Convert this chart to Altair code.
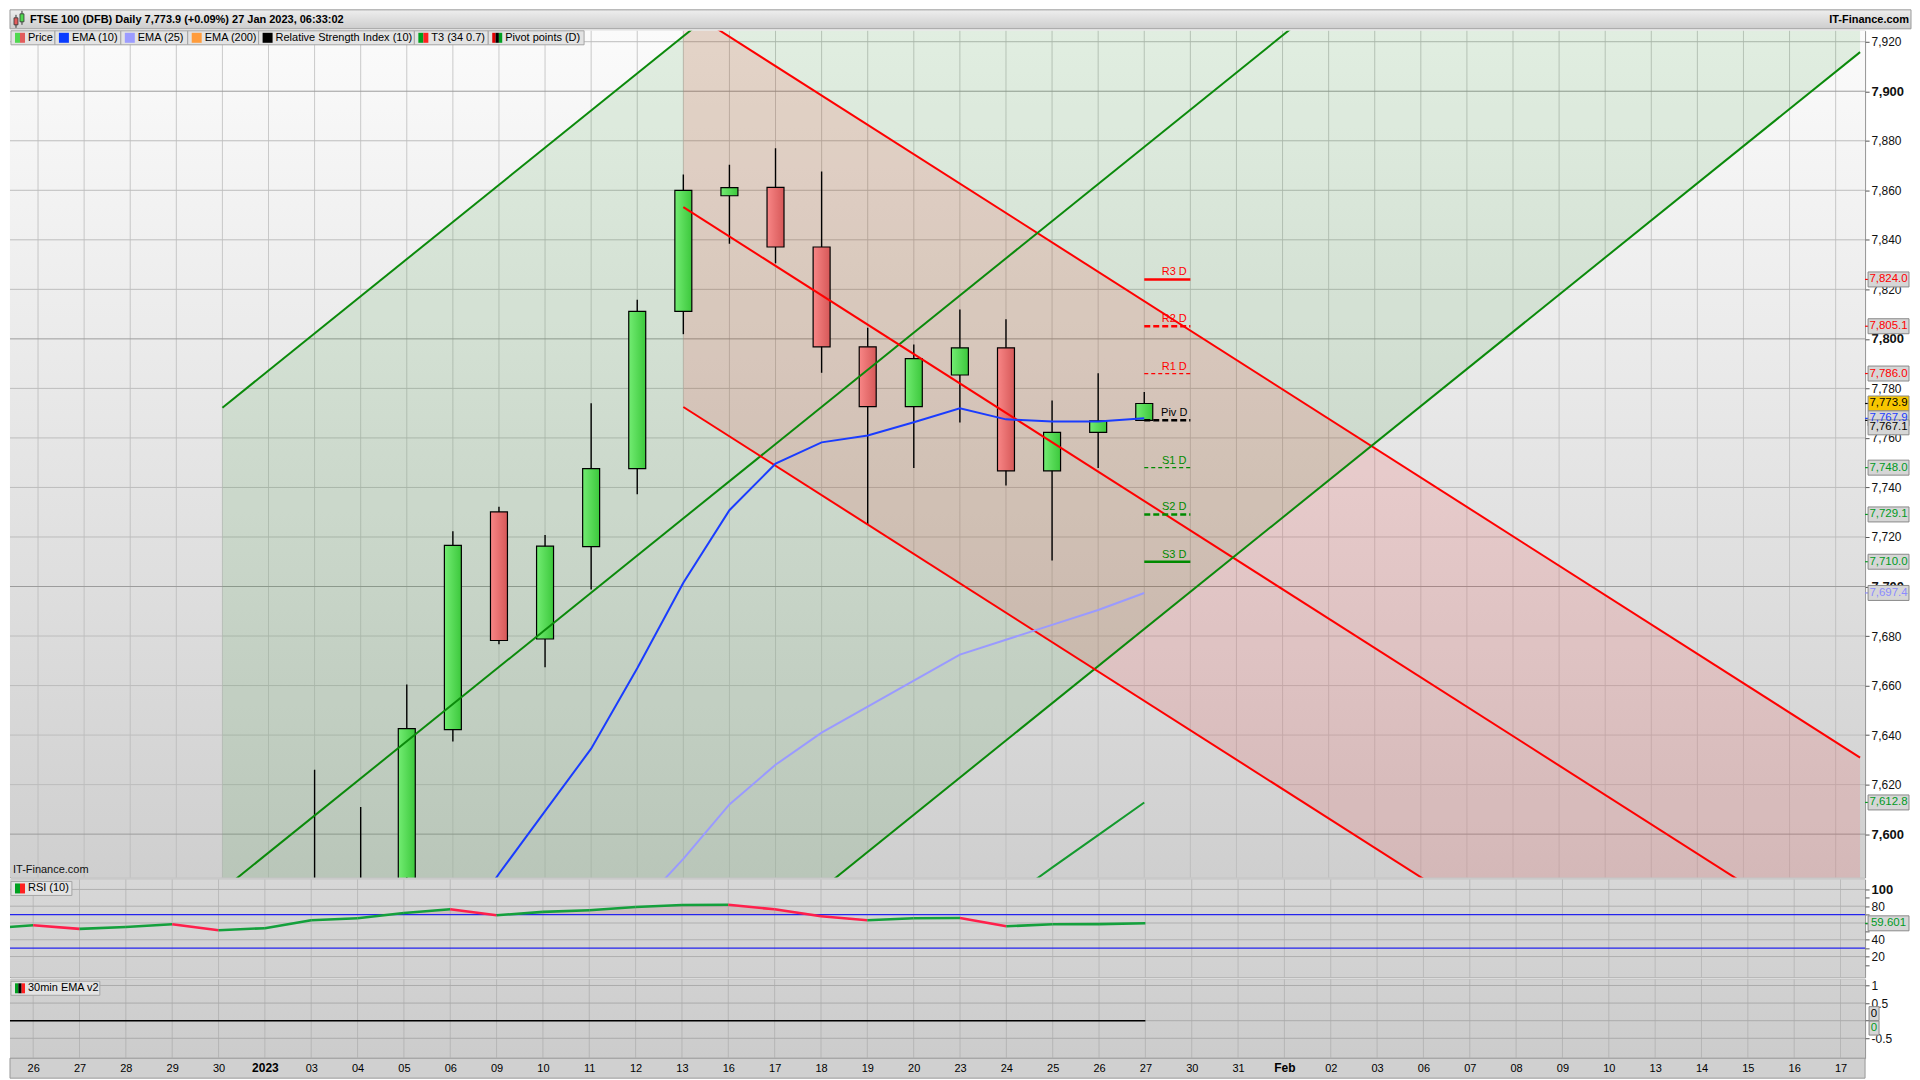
import altair as alt
import pandas as pd

FONT = "Liberation Sans"

# ---------------- data ----------------
DAY_LABELS = ["26", "27", "28", "29", "30", "2023", "03", "04", "05", "06",
              "09", "10", "11", "12", "13", "16", "17", "18", "19", "20",
              "23", "24", "25", "26", "27", "30", "31", "Feb", "02", "03",
              "06", "07", "08", "09", "10", "13", "14", "15", "16", "17"]
BOLD_DAY_LABELS = ["2023", "Feb"]

CANDLE_FIRST = 6
OPEN = [7535.0, 7556.0, 7575.0, 7642.2, 7730.1, 7678.8, 7716.1, 7747.6, 7811.1, 7857.8,
        7861.2, 7837.1, 7796.8, 7772.6, 7785.4, 7796.4, 7746.7, 7762.2, 7767.1]
HIGH = [7626.0, 7611.0, 7660.4, 7722.3, 7732.2, 7720.8, 7774.0, 7815.8, 7866.4, 7870.3,
        7877.0, 7867.6, 7804.5, 7797.7, 7811.9, 7807.9, 7775.1, 7786.1, 7778.5]
LOW = [7520.0, 7540.0, 7566.0, 7637.4, 7676.7, 7667.4, 7698.8, 7737.3, 7801.9, 7838.4,
       7830.5, 7786.3, 7725.1, 7747.9, 7766.2, 7740.8, 7710.5, 7747.9, 7766.9]
CLOSE = [7560.0, 7575.0, 7642.6, 7716.6, 7678.2, 7716.3, 7747.6, 7811.1, 7860.0, 7861.1,
         7837.1, 7796.8, 7772.6, 7792.0, 7796.4, 7746.7, 7762.2, 7766.9, 7773.9]

EMA10_FIRST = 8
EMA10 = [7538.0, 7557.0, 7584.0, 7609.3, 7634.5, 7667.0, 7701.5, 7730.8, 7749.6, 7758.2,
         7761.0, 7766.3, 7772.0, 7767.5, 7766.6, 7766.6, 7767.9]
EMA25_FIRST = 12
EMA25 = [7551.0, 7570.0, 7590.0, 7612.0, 7628.0, 7641.0, 7651.5, 7662.0, 7672.5, 7678.5,
         7684.5, 7690.5, 7697.4]
T3_FIRST = 21
T3 = [7573.0, 7586.5, 7599.6, 7612.8]

GREEN_CH_X = [4.0, 39.53]
GREEN_CH_MID = [7577.5, 8110.5]
GREEN_CH_HALF = 194.7
RED_CH_X = [14.0, 39.53]
RED_CH_MID = [7853.2, 7550.2]
RED_CH_HALF = 80.7

PIVOT_NAMES = ["R3 D", "R2 D", "R1 D", "Piv D", "S1 D", "S2 D", "S3 D"]
PIVOT_VALUES = [7824.0, 7805.1, 7786.0, 7767.1, 7748.0, 7729.1, 7710.0]
PIVOT_DAY = 24

PRICE_TAG_VALUES = [7824.0, 7805.1, 7786.0, 7773.9, 7767.9, 7767.1,
                    7748.0, 7729.1, 7710.0, 7697.4, 7612.8]

RSI_FIRST = -1
RSI = [53.3, 57.3, 53.0, 55.3, 58.5, 51.4, 53.8, 63.3, 65.6, 72.0, 76.3, 69.2, 73.2,
       75.1, 79.1, 81.5, 81.7, 76.3, 68.0, 63.3, 65.6, 66.0, 56.1, 58.5, 58.6, 59.6]
RSI_LEVELS = [70, 30]
RSI_TAG = 59.601

OSC_FIRST = -1
OSC = [0, 0, 0, 0, 0, 0, 0, 0, 0, 0, 0, 0, 0, 0, 0, 0, 0, 0, 0, 0, 0, 0, 0, 0, 0, 0]
OSC_TAG_VALUES = [0.2, -0.21]
OSC_TAG_TEXT = ["0", "0"]

PRICE_TICKS = [7600, 7620, 7640, 7660, 7680, 7700, 7720, 7740, 7760, 7780, 7800,
               7820, 7840, 7860, 7880, 7900, 7920]
RSI_TICKS = [10, 20, 30, 40, 50, 60, 70, 80, 90, 100]
RSI_LABELLED = [20, 40, 80, 100]
RSI_GRID = [20, 40, 60, 80, 100]
OSC_TICKS = [1, 0.5, 0, -0.5]
OSC_LABELLED = [1, 0.5, -0.5]

TITLE = "FTSE 100 (DFB) Daily 7,773.9 (+0.09%) 27 Jan 2023, 06:33:02"
BRAND = "IT-Finance.com"
LEGEND_NAMES = ["Price", "EMA (10)", "EMA (25)", "EMA (200)",
                "Relative Strength Index (10)", "T3 (34 0.7)", "Pivot points (D)"]
RSI_PANEL_NAME = "RSI (10)"
OSC_PANEL_NAME = "30min EMA v2"

# ---------------- styles / layout ----------------
W = 1858
AX_W = 46
H_TITLE, H_PRICE, H_RSI, H_OSC = 19, 848, 98, 79
PRICE_DOMAIN = [7582.5, 7924.4]
RSI_DOMAIN = [-4.8, 111.9]
OSC_DOMAIN = [-1.065, 1.175]
X_DOMAIN = [-0.5, 39.53]
PX_PER_PT = H_PRICE / (PRICE_DOMAIN[1] - PRICE_DOMAIN[0])
BODY_PX = 17

LEGEND_EDGES = [1, 45, 111, 178, 249, 405, 479, 575]
LEGEND_SWATCH = [["#4fd84f", "#e25c5c"], ["#0a3cff"], ["#9c9cff"], ["#ff9c3c"],
                 ["#000000"], ["#00a020", "#ff2020"], ["#e00000", "#000000", "#00a020"]]
PRICE_TAG_TEXT = ["#ff0000"] * 3 + ["#000000", "#1a3cff", "#000000"] + ["#009a1e"] * 3 + ["#8c8cff", "#009a1e"]
PRICE_TAG_FILL = ["#d6d6d6"] * 3 + ["#f7c600"] + ["#d6d6d6"] * 7
PRICE_TAG_SHIFT = [0, 0, 0, 0, 0, 7, 0, 0, 0, 0, 0]
PIVOT_COLORS = ["#ff0000"] * 3 + ["#000000"] + ["#008a00"] * 3
PIVOT_STYLE = ["solid", "dash", "dot", "dash", "dot", "dash", "solid"]
DASHES = {"solid": ([1, 0], 2.5), "dash": ([6, 3], 2.5), "dot": ([4, 3], 1.2)}

XS = alt.Scale(domain=X_DOMAIN, nice=False, zero=False)


def vgrad(c0, c1):
    return alt.Gradient(gradient="linear", x1=0, x2=0, y1=0, y2=1,
                        stops=[alt.GradientStop(color=c0, offset=0),
                               alt.GradientStop(color=c1, offset=1)])


def hgrad(c0, c1):
    return alt.Gradient(gradient="linear", x1=0, x2=1, y1=0, y2=0,
                        stops=[alt.GradientStop(color=c0, offset=0),
                               alt.GradientStop(color=c1, offset=1)])


def js_list(vals):
    return "[" + ",".join(str(v) for v in vals) + "]"


def yaxis(values, bold_test, label_expr):
    return alt.Axis(orient="right", values=values, grid=False, domain=False, ticks=True,
                    tickSize=4, tickColor="#555555", labelFont=FONT, labelColor="#111111",
                    labelPadding=2, title=None, labelOverlap=False, labelFlush=False, zindex=0,
                    labelExpr=label_expr,
                    labelFontWeight={"condition": {"test": bold_test, "value": "bold"}, "value": "normal"},
                    labelFontSize={"condition": {"test": bold_test, "value": 13}, "value": 12})


ONE = pd.DataFrame({"k": [0]})


def background(h, c0, c1, w=W):
    return alt.Chart(ONE).mark_rect(fill=vgrad(c0, c1)).encode(
        x=alt.value(0), x2=alt.value(w), y=alt.value(0), y2=alt.value(h))


def label_boxes(names, swatches, edges, y0, y1):
    boxes, sws, txt = [], [], []
    for k, name in enumerate(names):
        boxes.append({"x1": edges[k], "x2": edges[k + 1], "y1": y0, "y2": y1})
        n = len(swatches[k])
        for j, c in enumerate(swatches[k]):
            sws.append({"x1": edges[k] + 4 + 10 * j / n, "x2": edges[k] + 4 + 10 * (j + 1) / n,
                        "y1": y0 + 2, "y2": y1 - 2, "c": c})
        txt.append({"x": edges[k] + 17, "y": (y0 + y1) / 2, "t": name})
    b = alt.Chart(pd.DataFrame(boxes)).mark_rect(fill="#e3e3e3", stroke="#a5a5a5", strokeWidth=1).encode(
        x=alt.X("x1:Q", scale=None, axis=None), x2="x2:Q",
        y=alt.Y("y1:Q", scale=None, axis=None), y2="y2:Q")
    s = alt.Chart(pd.DataFrame(sws)).mark_rect().encode(
        x=alt.X("x1:Q", scale=None, axis=None), x2="x2:Q",
        y=alt.Y("y1:Q", scale=None, axis=None), y2="y2:Q",
        fill=alt.Fill("c:N", scale=None))
    t = alt.Chart(pd.DataFrame(txt)).mark_text(align="left", baseline="middle", font=FONT,
                                               fontSize=11, color="#000000").encode(
        x=alt.X("x:Q", scale=None, axis=None), y=alt.Y("y:Q", scale=None, axis=None), text="t:N")
    return [b, s, t]


# ---------------- title bar ----------------
icon = pd.DataFrame({"x1": [4, 10], "x2": [8, 14], "y1": [8, 4], "y2": [15, 12],
                     "c": ["#e25c5c", "#4fd84f"]})
icon_w = pd.DataFrame({"x": [6, 12], "y1": [5, 1], "y2": [18, 15]})
title_chart = alt.layer(
    alt.Chart(ONE).mark_rect(fill=vgrad("#eeeeee", "#cdcdcd"), stroke="#9a9a9a", strokeWidth=1).encode(
        x=alt.value(0), x2=alt.value(W + AX_W), y=alt.value(0), y2=alt.value(H_TITLE)),
    alt.Chart(icon_w).mark_rule(color="#333333").encode(
        x=alt.X("x:Q", scale=None, axis=None), y=alt.Y("y1:Q", scale=None, axis=None), y2="y2:Q"),
    alt.Chart(icon).mark_rect(stroke="#333333", strokeWidth=0.8).encode(
        x=alt.X("x1:Q", scale=None, axis=None), x2="x2:Q",
        y=alt.Y("y1:Q", scale=None, axis=None), y2="y2:Q", fill=alt.Fill("c:N", scale=None)),
    alt.Chart(ONE).mark_text(text=TITLE, align="left", baseline="middle", font=FONT,
                             fontSize=11, fontWeight="bold", color="#000000").encode(
        x=alt.value(20), y=alt.value(10)),
    alt.Chart(ONE).mark_text(text=BRAND, align="right", baseline="middle", font=FONT,
                             fontSize=11, fontWeight="bold", color="#000000").encode(
        x=alt.value(W + AX_W - 2), y=alt.value(10)),
).properties(width=W, height=H_TITLE, view=alt.ViewBackground(stroke="transparent"))

# ---------------- price panel ----------------
PY = alt.Scale(domain=PRICE_DOMAIN, nice=False, zero=False)
PAX = yaxis(PRICE_TICKS, "datum.value % 100 === 0", "format(datum.value, ',')")
XP = alt.X("i:Q", scale=XS, axis=None)


def py(field):
    return alt.Y(field, scale=PY, axis=PAX)


idx = list(range(CANDLE_FIRST, CANDLE_FIRST + len(OPEN)))
cdf = pd.DataFrame({"i": idx, "o": OPEN, "h": HIGH, "l": LOW, "c": CLOSE})
cdf["lo"] = cdf[["o", "c"]].min(axis=1)
cdf["hi"] = cdf[["o", "c"]].max(axis=1)
up = cdf[cdf["c"] >= cdf["o"]]
dn = cdf[cdf["c"] < cdf["o"]]


def chan(xs, mid, half, name, col):
    rows = []
    for x, m in zip(xs, mid):
        rows.append({"i": x, "up": m + half, "mid": m, "lo": m - half, "ch": name, "col": col})
    return pd.DataFrame(rows)


gch = chan(GREEN_CH_X, GREEN_CH_MID, GREEN_CH_HALF, "g", "#0b8a0b")
rch = chan(RED_CH_X, RED_CH_MID, RED_CH_HALF, "r", "#ff0000")
lines_long = pd.concat([gch, rch]).melt(id_vars=["i", "ch", "col"], value_vars=["up", "mid", "lo"],
                                         var_name="which", value_name="v")
lines_long["key"] = lines_long["ch"] + lines_long["which"]

ema10 = pd.DataFrame({"i": range(EMA10_FIRST, EMA10_FIRST + len(EMA10)), "v": EMA10})
ema25 = pd.DataFrame({"i": range(EMA25_FIRST, EMA25_FIRST + len(EMA25)), "v": EMA25})
t3 = pd.DataFrame({"i": range(T3_FIRST, T3_FIRST + len(T3)), "v": T3})

ygrid = pd.DataFrame({"v": PRICE_TICKS})
ygrid["col"] = ["#9c9c9c" if v % 100 == 0 else "#bdbdbd" for v in PRICE_TICKS]
xgrid = pd.DataFrame({"i": list(range(len(DAY_LABELS)))})

piv = pd.DataFrame({"name": PIVOT_NAMES, "v": PIVOT_VALUES, "c": PIVOT_COLORS, "st": PIVOT_STYLE})
piv["i"] = PIVOT_DAY
piv["i1"] = PIVOT_DAY + 1
piv["ix"] = PIVOT_DAY + 0.65

tags = pd.DataFrame({"v": PRICE_TAG_VALUES, "tc": PRICE_TAG_TEXT, "bg": PRICE_TAG_FILL,
                     "shift": PRICE_TAG_SHIFT})
tags["label"] = [f"{v:,.1f}" for v in PRICE_TAG_VALUES]
tags["vd"] = tags["v"] - tags["shift"] / PX_PER_PT

price_layers = [
    background(H_PRICE, "#fbfbfb", "#cfcfcf"),
    alt.Chart(xgrid).mark_rule(color="#b9b9b9", strokeWidth=1, opacity=0.75).encode(x=XP),
    alt.Chart(ygrid).mark_rule(strokeWidth=1).encode(y=py("v:Q"), color=alt.Color("col:N", scale=None)),
    alt.Chart(gch).mark_area(color="#008000", opacity=0.1, clip=True).encode(
        x=XP, y=py("up:Q"), y2="lo:Q"),
    alt.Chart(rch).mark_area(color="#ff0000", opacity=0.11, clip=True).encode(
        x=XP, y=py("up:Q"), y2="lo:Q"),
    alt.Chart(cdf).mark_rule(color="#000000", strokeWidth=1.4, clip=True).encode(
        x=XP, y=py("l:Q"), y2="h:Q"),
    alt.Chart(up).mark_bar(size=BODY_PX, fill=hgrad("#72ec72", "#3cc83c"), stroke="#000000",
                           strokeWidth=1.2, clip=True).encode(x=XP, y=py("lo:Q"), y2="hi:Q"),
    alt.Chart(dn).mark_bar(size=BODY_PX, fill=hgrad("#f88686", "#d65858"), stroke="#000000",
                           strokeWidth=1.2, clip=True).encode(x=XP, y=py("lo:Q"), y2="hi:Q"),
    alt.Chart(lines_long).mark_line(strokeWidth=2, clip=True).encode(
        x=XP, y=py("v:Q"), detail="key:N", color=alt.Color("col:N", scale=None)),
    alt.Chart(ema25).mark_line(color="#9a9aff", strokeWidth=2, clip=True).encode(x=XP, y=py("v:Q")),
    alt.Chart(ema10).mark_line(color="#1a3cff", strokeWidth=2, clip=True).encode(x=XP, y=py("v:Q")),
    alt.Chart(t3).mark_line(color="#149a2e", strokeWidth=2, clip=True).encode(x=XP, y=py("v:Q")),
]
for st, (dash, wdt) in DASHES.items():
    sub = piv[piv["st"] == st]
    price_layers.append(
        alt.Chart(sub).mark_rule(strokeDash=dash, strokeWidth=wdt).encode(
            x=XP, x2="i1:Q", y=py("v:Q"), color=alt.Color("c:N", scale=None)))
price_layers += [
    alt.Chart(piv).mark_text(dy=-7, fontSize=11, font=FONT, align="center", baseline="middle").encode(
        x=alt.X("ix:Q", scale=XS, axis=None), y=py("v:Q"), text="name:N",
        color=alt.Color("c:N", scale=None)),
    alt.Chart(tags).mark_rule(strokeWidth=1.2).encode(
        x=alt.value(W), x2=alt.value(W + 4), y=py("v:Q"), color=alt.Color("tc:N", scale=None)),
    alt.Chart(tags).mark_rect(stroke="#8a8a8a", strokeWidth=1, yOffset=-7.5, y2Offset=7.5).encode(
        x=alt.value(W + 3), x2=alt.value(W + 44), y=py("vd:Q"), y2="vd:Q",
        fill=alt.Fill("bg:N", scale=None)),
    alt.Chart(tags).mark_text(fontSize=11.5, font=FONT, align="center", baseline="middle").encode(
        x=alt.value(W + 23.5), y=py("vd:Q"), text="label:N", color=alt.Color("tc:N", scale=None)),
]
price_layers += label_boxes(LEGEND_NAMES, LEGEND_SWATCH, LEGEND_EDGES, 0, 14)
price_layers.append(
    alt.Chart(ONE).mark_text(text=BRAND, align="left", baseline="middle", font=FONT, fontSize=11,
                             color="#111111").encode(x=alt.value(3), y=alt.value(H_PRICE - 7)))
price_chart = alt.layer(*price_layers).properties(width=W, height=H_PRICE)

# ---------------- RSI panel ----------------
RY = alt.Scale(domain=RSI_DOMAIN, nice=False, zero=False)
RAX = yaxis(RSI_TICKS, "datum.value === 100",
            f"indexof({js_list(RSI_LABELLED)}, datum.value) >= 0 ? datum.label : ''")


def ry(field):
    return alt.Y(field, scale=RY, axis=RAX)


ri = list(range(RSI_FIRST, RSI_FIRST + len(RSI)))
segs = []
for k in range(len(RSI) - 1):
    col = "#14a03c" if RSI[k + 1] >= RSI[k] else "#ff1f4b"
    segs.append({"seg": k, "i": ri[k], "r": RSI[k], "col": col})
    segs.append({"seg": k, "i": ri[k + 1], "r": RSI[k + 1], "col": col})
segs = pd.DataFrame(segs)
ob = pd.DataFrame({"i": ri, "top": [max(r, RSI_LEVELS[0]) for r in RSI], "base": RSI_LEVELS[0]})
rgrid = pd.DataFrame({"v": RSI_GRID})
rlev = pd.DataFrame({"v": RSI_LEVELS})
rtag = pd.DataFrame({"v": [RSI_TAG], "label": [f"{RSI_TAG:.3f}"]})

rsi_layers = [
    background(H_RSI, "#d7d7d7", "#d1d1d1"),
    alt.Chart(xgrid).mark_rule(color="#b4b4b4", strokeWidth=1, opacity=0.8).encode(x=XP),
    alt.Chart(rgrid).mark_rule(color="#b0b0b0", strokeWidth=1).encode(y=ry("v:Q")),
    alt.Chart(ob).mark_area(color="#a04848", opacity=0.16, clip=True).encode(x=XP, y=ry("top:Q"), y2="base:Q"),
    alt.Chart(rlev).mark_rule(color="#2424ee", strokeWidth=1.2).encode(y=ry("v:Q")),
    alt.Chart(segs).mark_line(strokeWidth=2.6, clip=True).encode(
        x=XP, y=ry("r:Q"), detail="seg:N", color=alt.Color("col:N", scale=None)),
    alt.Chart(rtag).mark_rule(color="#009a1e", strokeWidth=1.2).encode(
        x=alt.value(W), x2=alt.value(W + 4), y=ry("v:Q")),
    alt.Chart(rtag).mark_rect(fill="#d6d6d6", stroke="#8a8a8a", strokeWidth=1, yOffset=-7.5, y2Offset=7.5).encode(
        x=alt.value(W + 3), x2=alt.value(W + 44), y=ry("v:Q"), y2="v:Q"),
    alt.Chart(rtag).mark_text(fontSize=11.5, font=FONT, align="center", baseline="middle", color="#009a1e").encode(
        x=alt.value(W + 23.5), y=ry("v:Q"), text="label:N"),
] + label_boxes([RSI_PANEL_NAME], [["#00a020", "#ff2020"]], [1, 62], 2, 16)
rsi_chart = alt.layer(*rsi_layers).properties(width=W, height=H_RSI)

# ---------------- oscillator panel ----------------
OY = alt.Scale(domain=OSC_DOMAIN, nice=False, zero=False)
OAX = yaxis(OSC_TICKS, "false",
            f"indexof({js_list(OSC_LABELLED)}, datum.value) < 0 ? '' : "
            "(datum.value < 0 ? '-' + format(-datum.value, '') : format(datum.value, ''))")
bold_idx = [k for k, d in enumerate(DAY_LABELS) if d in BOLD_DAY_LABELS]
bold_test = " || ".join(f"datum.value === {k}" for k in bold_idx)
XAX = alt.Axis(values=list(range(len(DAY_LABELS))),
               labelExpr="[" + ",".join(f"'{d}'" for d in DAY_LABELS) + "][datum.value]",
               grid=False, ticks=False, domain=False, labelPadding=4, labelFont=FONT,
               labelColor="#000000", labelOverlap=False, labelFlush=False, title=None, zindex=1,
               labelFontWeight={"condition": {"test": bold_test, "value": "bold"}, "value": "normal"},
               labelFontSize={"condition": {"test": bold_test, "value": 12}, "value": 11})
XO = alt.X("i:Q", scale=XS, axis=XAX)


def oy(field):
    return alt.Y(field, scale=OY, axis=OAX)


osc = pd.DataFrame({"i": range(OSC_FIRST, OSC_FIRST + len(OSC)), "v": OSC})
ogrid = pd.DataFrame({"v": OSC_TICKS})
otag = pd.DataFrame({"v": OSC_TAG_VALUES, "label": OSC_TAG_TEXT, "tc": ["#000000", "#009a1e"]})

osc_layers = [
    background(H_OSC, "#d1d1d1", "#cccccc"),
    alt.Chart(ONE).mark_rect(fill="#d0d0d0", stroke="#9a9a9a", strokeWidth=1).encode(
        x=alt.value(0), x2=alt.value(W), y=alt.value(H_OSC), y2=alt.value(H_OSC + 20)),
    alt.Chart(xgrid).mark_rule(color="#b0b0b0", strokeWidth=1, opacity=0.8).encode(x=XO),
    alt.Chart(ogrid).mark_rule(color="#ababab", strokeWidth=1).encode(y=oy("v:Q")),
    alt.Chart(osc).mark_line(color="#000000", strokeWidth=1.6, clip=True).encode(x=XO, y=oy("v:Q")),
    alt.Chart(otag).mark_rect(fill="#d6d6d6", stroke="#8a8a8a", strokeWidth=1, yOffset=-7, y2Offset=7).encode(
        x=alt.value(W + 4), x2=alt.value(W + 14), y=oy("v:Q"), y2="v:Q"),
    alt.Chart(otag).mark_text(fontSize=11.5, font=FONT, align="center", baseline="middle").encode(
        x=alt.value(W + 9), y=oy("v:Q"), text="label:N", color=alt.Color("tc:N", scale=None)),
] + label_boxes([OSC_PANEL_NAME], [["#00a020", "#000000", "#ff2020"]], [1, 90], 2, 16)
osc_chart = alt.layer(*osc_layers).properties(width=W, height=H_OSC)

chart = alt.vconcat(title_chart, price_chart, rsi_chart, osc_chart, spacing=0).properties(
    padding=0, background="#ffffff"
).configure_view(stroke="#8e8e8e", strokeWidth=1)

chart.save("out.html", embed_options={"renderer": "svg", "actions": False})
